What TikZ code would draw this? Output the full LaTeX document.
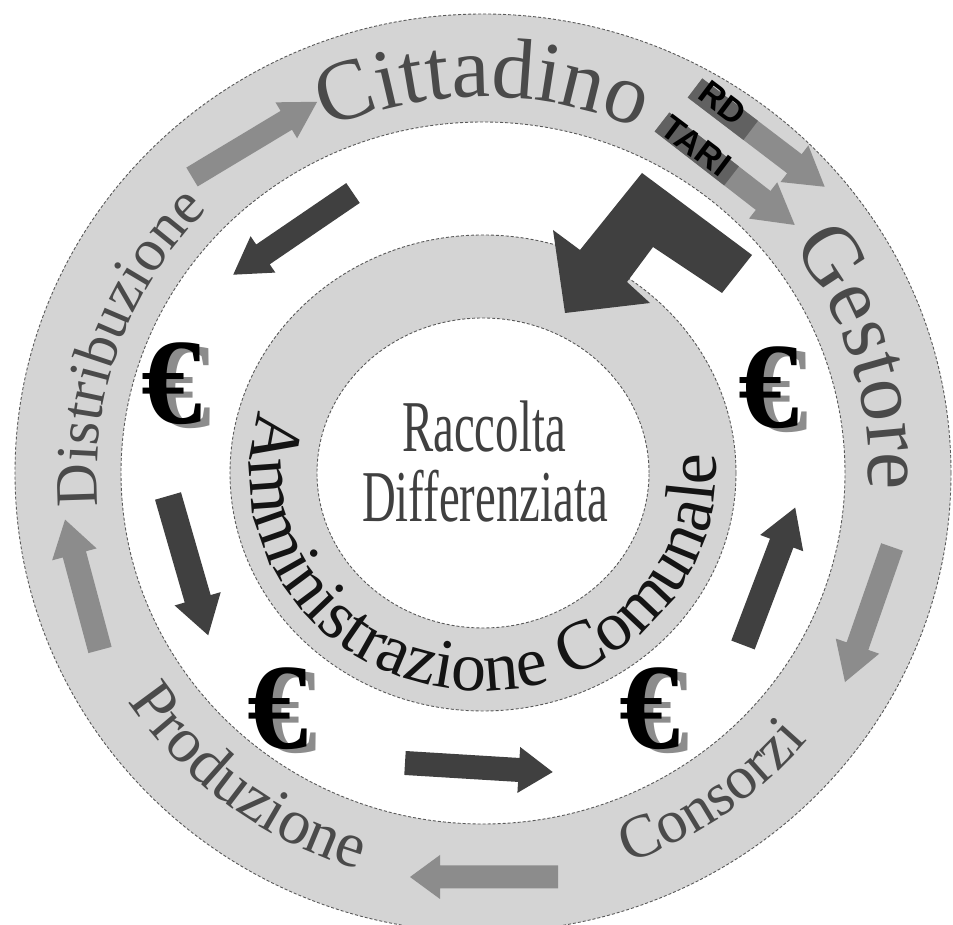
\documentclass[tikz,border=0pt]{standalone}
\usepackage{fontspec}
\setmainfont{Liberation Serif}
\newfontfamily\ringfont{Liberation Serif}
\newfontfamily\condfont[FakeStretch=0.64]{Liberation Serif}
\newfontfamily\labfont{Liberation Sans}
\usetikzlibrary{decorations.text}
\definecolor{ringgray}{gray}{0.83}
\definecolor{edgegray}{gray}{0.35}
\definecolor{outerarrow}{gray}{0.55}
\definecolor{innerarrow}{gray}{0.25}
\definecolor{outertext}{gray}{0.29}
\definecolor{innertext}{gray}{0.08}
\definecolor{centertext}{gray}{0.25}
\definecolor{eurosh}{gray}{0.55}
\definecolor{darkstart}{gray}{0.38}
\newcommand\blkarrow[8]{%
  \begin{scope}[shift={(#2,#3)},rotate=#4]
    \fill[#1] (0,-#6/2) -- (#5-#8,-#6/2) -- (#5-#8,-#7/2) -- (#5,0) -- (#5-#8,#7/2) -- (#5-#8,#6/2) -- (0,#6/2) -- cycle;
  \end{scope}}
\begin{document}
\begin{tikzpicture}[x=1pt,y=1pt,
  ringedge/.style={draw=edgegray,line width=0.9pt,dash pattern=on 3pt off 2pt},
  euro/.style={inner sep=0pt,font=\ringfont\bfseries\fontsize{122}{122}\selectfont},
  centertxt/.style={inner sep=0pt,text=centertext,font=\condfont\fontsize{73}{73}\selectfont},
  tag/.style={inner sep=0pt,text=black,font=\labfont\bfseries\fontsize{34}{34}\selectfont}]
\useasboundingbox (0,0) rectangle (953,925);
\fill[white] (0,0) rectangle (953,925);
\begin{scope}[shift={(483,452)}]
  \fill[ringgray,even odd rule] (0,0) ellipse [x radius=468, y radius=459] (0,0) ellipse [x radius=362, y radius=351];
  \fill[ringgray,even odd rule] (0,0) ellipse [x radius=253, y radius=238] (0,0) ellipse [x radius=166, y radius=155];
  \draw[ringedge] (0,0) ellipse [x radius=468, y radius=459];
  \draw[ringedge] (0,0) ellipse [x radius=362, y radius=351];
  \draw[ringedge] (0,0) ellipse [x radius=253, y radius=238];
  \draw[ringedge] (0,0) ellipse [x radius=166, y radius=155];
  % outer ring labels
  \path[decorate,decoration={text along path,text align=center,
    text={|\ringfont\fontsize{86}{86}\selectfont\color{outertext}|Cittadino}}]
    (150:386 and 376) arc[start angle=150,end angle=30,x radius=386,y radius=376];
  \path[decorate,decoration={text along path,text align=center,
    text={|\ringfont\fontsize{84}{84}\selectfont\color{outertext}|Gestore}}]
    (70:386 and 376) arc[start angle=70,end angle=-36,x radius=386,y radius=376];
  \path[decorate,decoration={text along path,text align=center,
    text={|\ringfont\fontsize{60}{60}\selectfont\color{outertext}|Distribuzione}}]
    (213:386 and 376) arc[start angle=213,end angle=108,x radius=386,y radius=376];
  \path[decorate,decoration={text along path,text align=center,
    text={|\ringfont\fontsize{64}{64}\selectfont\color{outertext}|Produzione}}]
    (200:425 and 415) arc[start angle=200,end angle=266,x radius=425,y radius=415];
  \path[decorate,decoration={text along path,text align=center,
    text={|\ringfont\fontsize{61}{61}\selectfont\color{outertext}|Consorzi}}]
    (280:425 and 415) arc[start angle=280,end angle=330,x radius=425,y radius=415];
  % inner ring label
  \path[decorate,decoration={text along path,text align=center,
    text={|\ringfont\fontsize{70}{70}\selectfont\color{innertext}|Amministrazione Comunale}}]
    (130:233 and 218) arc[start angle=130,end angle=399,x radius=233,y radius=218];
\end{scope}
% outer ring arrows
\blkarrow{outerarrow}{192}{748}{31}{146}{22}{42}{36}
\blkarrow{outerarrow}{892}{378}{250.8}{143}{23}{46}{38}
\blkarrow{outerarrow}{558}{48}{180}{148}{23}{44}{30}
\blkarrow{outerarrow}{100}{275}{105}{135}{24}{46}{36}
% RD and TARI arrows
\blkarrow{outerarrow}{695}{837}{-37.3}{163}{24}{46}{38}
\blkarrow{outerarrow}{662}{803}{-37.8}{168}{24}{46}{40}
\begin{scope}[shift={(695,837)},rotate=-37.3]
  \fill[darkstart] (0,-12) rectangle (70,12);
\end{scope}
\begin{scope}[shift={(662,803)},rotate=-37.8]
  \fill[darkstart] (0,-12) rectangle (88,12);
\end{scope}
\node[tag,rotate=-37] (rd) at (723,822) {RD};
\node[tag,rotate=-37] (tari) at (696,779) {TARI};
% inner arrows
\blkarrow{innerarrow}{353}{732}{214.3}{145}{24}{44}{36}
\blkarrow{innerarrow}{168}{429}{-73.9}{145}{27}{48}{38}
\blkarrow{innerarrow}{405}{162}{-3.5}{148}{24}{46}{34}
\blkarrow{innerarrow}{743}{280}{69.2}{147}{25}{46}{38}
% bent arrow
\fill[innerarrow] (642,752) -- (752,670) -- (722,632) -- (653,678) -- (627,643) -- (650,622) -- (565,612) -- (553,695) -- (580,675) -- cycle;
% euro symbols
\node[euro,text=eurosh] (e1s) at (181,537) {€};
\node[euro,text=black] (e1) at (172,541) {€};
\node[euro,text=eurosh] (e2s) at (778,533) {€};
\node[euro,text=black] (e2) at (769,537) {€};
\node[euro,text=eurosh] (e3s) at (287,212) {€};
\node[euro,text=black] (e3) at (278,216) {€};
\node[euro,text=eurosh] (e4s) at (659,212) {€};
\node[euro,text=black] (e4) at (650,216) {€};
% centre text
\node[centertxt,anchor=base] (t1) at (484,473) {Raccolta};
\node[centertxt,anchor=base] (t2) at (485,403) {Differenziata};
\end{tikzpicture}
\end{document}
